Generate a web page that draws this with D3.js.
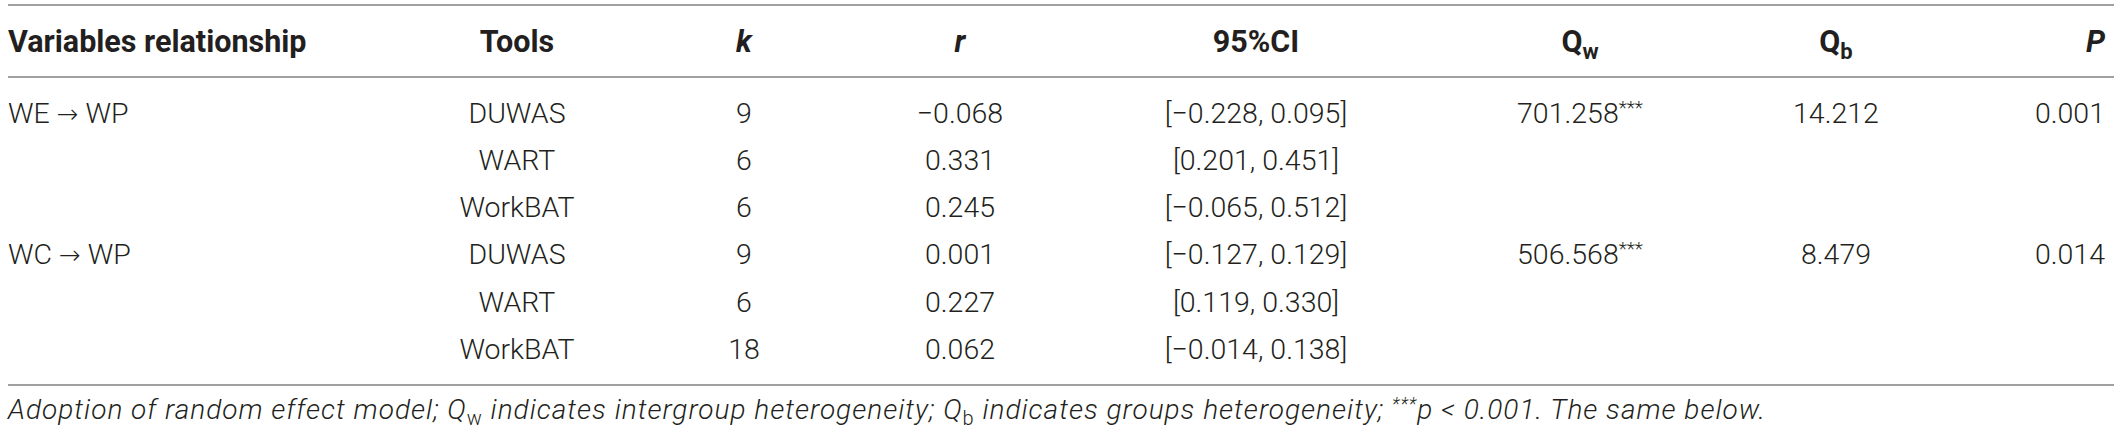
<!DOCTYPE html>
<html><head><meta charset="utf-8">
<script src="https://cdn.jsdelivr.net/npm/d3@7"></script>
<style>
html,body{margin:0;padding:0;background:#fff;}
svg{display:block;}
</style></head>
<body>
<svg id="c" width="2120" height="433"></svg>
<script>
const relations = [["WE", "WP"], null, null, ["WC", "WP"], null, null];
const tools = ["DUWAS", "WART", "WorkBAT", "DUWAS", "WART", "WorkBAT"];
const kValues = [9, 6, 6, 9, 6, 18];
const rValues = ["\u22120.068", "0.331", "0.245", "0.001", "0.227", "0.062"];
const ciValues = ["[\u22120.228, 0.095]", "[0.201, 0.451]", "[\u22120.065, 0.512]", "[\u22120.127, 0.129]", "[0.119, 0.330]", "[\u22120.014, 0.138]"];
const qwValues = ["701.258", "", "", "506.568", "", ""];
const qbValues = ["14.212", "", "", "8.479", "", ""];
const pValues = ["0.001", "", "", "0.014", "", ""];

const svg = d3.select("#c");
const ink = "#231f20";
const rule = "#a0a0a0";
const bodyFont = "Roboto";
const bodySize = 28.5;

const cols = {
  rel: {x: 8, anchor: "start"},
  tool: {x: 517, anchor: "middle"},
  k: {x: 744, anchor: "middle"},
  r: {x: 960, anchor: "middle"},
  ci: {x: 1256, anchor: "middle"},
  qw: {x: 1580, anchor: "middle"},
  qb: {x: 1836, anchor: "middle"},
  p: {x: 2105, anchor: "end"}
};

const y = d3.scaleLinear().domain([0, tools.length - 1]).range([122.5, 359]);

// rules
[5, 77, 385].forEach(yy => {
  svg.append("line").attr("x1", 8).attr("x2", 2114).attr("y1", yy).attr("y2", yy)
    .attr("stroke", rule).attr("stroke-width", 2);
});

// header
const hg = svg.append("g").attr("font-family", "Roboto").attr("font-weight", 700)
  .attr("font-size", 30.5).attr("fill", ink);
function head(col, parts) {
  const t = hg.append("text").attr("x", cols[col].x).attr("y", 52).attr("text-anchor", cols[col].anchor);
  parts.forEach(p => {
    const s = t.append("tspan").text(p.t);
    if (p.i) s.attr("font-style", "italic");
    if (p.sub) s.attr("font-size", 22).attr("dy", 7);
  });
}
head("rel", [{t: "Variables relationship"}]);
head("tool", [{t: "Tools"}]);
head("k", [{t: "k", i: true}]);
head("r", [{t: "r", i: true}]);
head("ci", [{t: "95%CI"}]);
head("qw", [{t: "Q"}, {t: "w", sub: true}]);
head("qb", [{t: "Q"}, {t: "b", sub: true}]);
head("p", [{t: "P", i: true}]);

// body
const bg = svg.append("g").attr("font-family", bodyFont).attr("font-weight", 300)
  .attr("font-size", bodySize).attr("fill", ink);
function col(key, arr, fmt) {
  bg.append("g").selectAll("text").data(arr).join("text")
    .attr("x", cols[key].x).attr("y", (d, i) => y(i))
    .attr("text-anchor", cols[key].anchor)
    .each(function(d) { fmt ? fmt(d3.select(this), d) : d3.select(this).text(d); });
}
col("rel", relations, (s, d) => {
  if (!d) return;
  s.append("tspan").text(d[0] + " ");
  s.append("tspan").text("\u2192").attr("font-family", "DejaVu Sans").attr("font-weight", 200).attr("font-size", 26);
  s.append("tspan").text(" " + d[1]);
});
col("tool", tools);
col("k", kValues);
col("r", rValues);
col("ci", ciValues);
col("qw", qwValues, (s, d) => {
  if (!d) return;
  s.append("tspan").text(d);
  s.append("tspan").text("***").attr("font-size", 19).attr("dy", -9);
});
col("qb", qbValues);
col("p", pValues);

// footnote
const ft = svg.append("text").attr("x", 8).attr("y", 419)
  .attr("font-family", bodyFont).attr("font-weight", 300).attr("font-style", "italic")
  .attr("font-size", 28).attr("letter-spacing", 1).attr("fill", ink);
ft.append("tspan").text("Adoption of random effect model; Q");
ft.append("tspan").text("w").attr("font-size", 20).attr("dy", 6).attr("font-style", "normal");
ft.append("tspan").text(" indicates intergroup heterogeneity; Q").attr("dy", -6);
ft.append("tspan").text("b").attr("font-size", 20).attr("dy", 6).attr("font-style", "normal");
ft.append("tspan").text(" indicates groups heterogeneity; ").attr("dy", -6);
ft.append("tspan").text("***").attr("font-size", 18).attr("dy", -9);
ft.append("tspan").text("p < 0.001. The same below.").attr("dy", 9);
</script>
</body></html>
